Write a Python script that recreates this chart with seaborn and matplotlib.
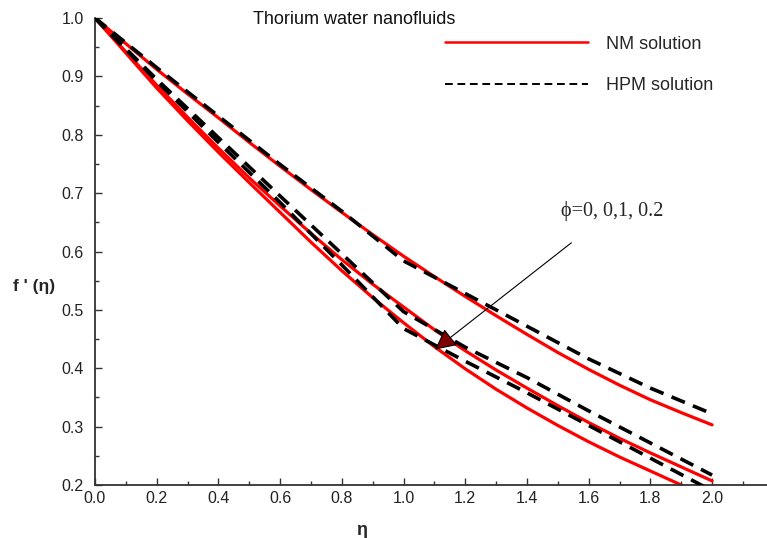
import numpy as np
import pandas as pd
import matplotlib
matplotlib.use("Agg")
import matplotlib.pyplot as plt
from matplotlib.lines import Line2D
from matplotlib.ticker import MultipleLocator
import seaborn as sns

# ---- data (eta grid, f'(eta) per curve) ----
eta_nm = [0.0, 0.1, 0.2, 0.3, 0.4, 0.5, 0.6, 0.7, 0.8, 0.9, 1.0,
          1.1, 1.2, 1.3, 1.4, 1.5, 1.6, 1.7, 1.8, 1.9, 2.0]
nm_top = [1.0, 0.956, 0.912, 0.870, 0.829, 0.787, 0.746, 0.706, 0.667, 0.629, 0.592,
          0.557, 0.523, 0.490, 0.458, 0.427, 0.398, 0.371, 0.346, 0.324, 0.303]
nm_mid = [1.0, 0.942, 0.885, 0.830, 0.777, 0.726, 0.678, 0.631, 0.586, 0.544, 0.505,
          0.466, 0.430, 0.397, 0.366, 0.336, 0.307, 0.280, 0.255, 0.231, 0.207]
nm_low = [1.0, 0.940, 0.880, 0.824, 0.770, 0.718, 0.667, 0.616, 0.567, 0.521, 0.478,
          0.437, 0.399, 0.364, 0.332, 0.302, 0.274, 0.248, 0.224, 0.200, 0.178]

eta_hpm = [0.0, 0.2, 0.4, 0.6, 0.8, 1.0, 1.2, 1.4, 1.6, 1.8, 2.0]
hpm_top = [1.0, 0.915, 0.832, 0.749, 0.669, 0.584, 0.528, 0.472, 0.416, 0.366, 0.322]
hpm_mid = [1.0, 0.895, 0.795, 0.695, 0.596, 0.497, 0.436, 0.384, 0.327, 0.272, 0.217]
hpm_low = [1.0, 0.892, 0.787, 0.684, 0.577, 0.468, 0.412, 0.358, 0.302, 0.246, 0.190]

x_ticks = [0.0, 0.2, 0.4, 0.6, 0.8, 1.0, 1.2, 1.4, 1.6, 1.8, 2.0]
y_ticks = [0.2, 0.3, 0.4, 0.5, 0.6, 0.7, 0.8, 0.9, 1.0]

rows = []
for name, xs, ys in [("nm0", eta_nm, nm_top), ("nm1", eta_nm, nm_mid),
                     ("nm2", eta_nm, nm_low), ("hpm0", eta_hpm, hpm_top),
                     ("hpm1", eta_hpm, hpm_mid), ("hpm2", eta_hpm, hpm_low)]:
    rows.append(pd.DataFrame({"eta": xs, "f": ys, "curve": name}))
curves = pd.concat(rows, ignore_index=True)

sns.set_style("ticks")
plt.rcParams["font.family"] = ["Liberation Sans", "DejaVu Sans"]

fig = plt.figure(figsize=(7.67, 5.38), dpi=100)
ax = fig.add_axes([95 / 767, 1 - 485 / 538, 672 / 767, 467 / 538])

for name, grp in curves.groupby("curve", sort=False):
    if name.startswith("nm"):
        sns.lineplot(data=grp, x="eta", y="f", ax=ax, color="#ff0000",
                     lw=2.3, legend=False, zorder=2)
    else:
        sns.lineplot(data=grp, x="eta", y="f", ax=ax, color="black",
                     lw=2.6, linestyle=(0, (4, 2.4)), legend=False, zorder=3)

ax.set_xlim(0, 2.178)
ax.set_ylim(0.2, 1.0)
ax.set_xticks(x_ticks)
ax.set_yticks(y_ticks)
ax.set_xticklabels([f"{v:.1f}" for v in x_ticks])
ax.set_yticklabels([f"{v:.1f}" for v in y_ticks])
ax.xaxis.set_minor_locator(MultipleLocator(0.1))
ax.yaxis.set_minor_locator(MultipleLocator(0.05))
ax.tick_params(which="both", direction="in", colors="#333333", width=1.0,
               labelcolor="#222222", labelsize=11.5)
ax.tick_params(which="major", length=5)
ax.tick_params(which="minor", length=3)
ax.tick_params(axis="x", pad=4)
ax.tick_params(axis="y", pad=8)

for s in ["top", "right"]:
    ax.spines[s].set_visible(False)
for s in ["left", "bottom"]:
    ax.spines[s].set_color("#333333")
    ax.spines[s].set_linewidth(1.3)

ax.set_xlabel("η", fontsize=13, fontweight="bold")
ax.xaxis.set_label_coords(0.397, -0.08)
ax.set_ylabel("f ' (η)", fontsize=12.5, fontweight="bold", rotation=0,
              ha="center", va="center")
ax.yaxis.set_label_coords(-0.091, 0.424)

ax.text(0.512, 0.998, "Thorium water nanofluids", fontsize=13, ha="left",
        va="center", color="#111111")

handles = [Line2D([], [], color="#ff0000", lw=1.8),
           Line2D([], [], color="black", lw=1.4, linestyle=(0, (4, 2.4)))]
ax.legend(handles, ["NM solution", "HPM solution"], loc="upper left",
          bbox_to_anchor=(0.521, 0.962), frameon=False, fontsize=13,
          handlelength=7.9, handletextpad=1.0, labelspacing=1.35,
          borderpad=0, borderaxespad=0)

ax.annotate("ϕ=0, 0,1, 0.2", xy=(1.102, 0.432), xytext=(1.511, 0.67),
            textcoords="data", fontsize=14.5, ha="left", va="center",
            family=["Liberation Serif", "DejaVu Serif"],
            arrowprops=dict(arrowstyle="-|>,head_length=0.9,head_width=0.45",
                            edgecolor="black", facecolor="#800000", lw=0.8,
                            shrinkA=22, shrinkB=0))

fig.savefig("out.png", dpi=100)
